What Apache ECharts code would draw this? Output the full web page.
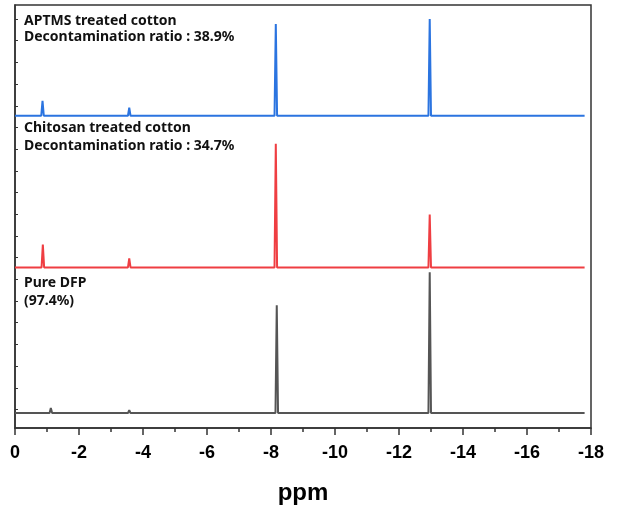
<!DOCTYPE html>
<html>
<head>
<meta charset="utf-8">
<script src="https://cdn.jsdelivr.net/npm/echarts@6/dist/echarts.min.js"></script>
<style>
  html, body { margin: 0; padding: 0; background: #fff; }
  #main { width: 621px; height: 510px; }
</style>
</head>
<body>
<div id="main"></div>
<script>
// x axis ticks (ppm)
var xTicks = [0, -2, -4, -6, -8, -10, -12, -14, -16, -18];

// peak positions (ppm) and heights (a.u.), per trace
var aptmsPeaks = [-0.86, -3.57, -8.15, -12.96];
var aptmsHeights = [15, 8, 92, 97];
var aptmsOffset = 298;

var chitosanPeaks = [-0.87, -3.57, -8.15, -12.96];
var chitosanHeights = [23, 9, 124, 53];
var chitosanOffset = 146;

var dfpPeaks = [-1.12, -3.57, -8.18, -12.96];
var dfpHeights = [5, 3, 108, 141];
var dfpOffset = 0;

var specStart = 0, specEnd = -17.8;

// polyline of a stick spectrum: baseline, then each peak top, back to baseline
function trace(peaks, heights, off) {
    var pts = [[specStart, off]];
    for (var i = 0; i < peaks.length; i++) {
        pts.push([peaks[i] + 0.04, off]);
        pts.push([peaks[i], off + heights[i]]);
        pts.push([peaks[i] - 0.04, off]);
    }
    pts.push([specEnd, off]);
    return pts;
}

// inner tick marks on the left axis
var yTickVals = [];
for (var k = 0; k <= 18; k++) yTickVals.push(395 - 21.75 * k);

var myChart = echarts.init(document.getElementById('main'));
var txt = { fontFamily: 'Noto Sans', fontWeight: 'bold', fontSize: 14, fill: '#111' };
var option = {
    animation: false,
    grid: { left: 15, right: 30, top: 5, bottom: 81, show: true, borderColor: '#333', borderWidth: 1.5 },
    xAxis: {
        type: 'value', min: -18, max: 0, interval: 2, inverse: true,
        name: 'ppm', nameLocation: 'middle', nameGap: 53,
        nameTextStyle: { fontFamily: 'Liberation Sans', fontWeight: 'bold', fontSize: 24, color: '#000' },
        axisLine: { onZero: false, lineStyle: { color: '#333', width: 1.5 } },
        axisTick: { length: 7, lineStyle: { color: '#333', width: 1.5 } },
        minorTick: { show: true, splitNumber: 2, length: 4, lineStyle: { color: '#333', width: 1.5 } },
        splitLine: { show: false },
        axisLabel: {
            margin: 16, fontFamily: 'Liberation Sans', fontWeight: 'bold', fontSize: 18, color: '#000',
            formatter: function (v) { return xTicks.indexOf(v) >= 0 ? String(v) : ''; }
        }
    },
    yAxis: {
        type: 'value', min: -15, max: 409,
        axisLine: { show: true, onZero: false, lineStyle: { color: '#333', width: 1.5 } },
        axisTick: { show: true, inside: true, length: 3, customValues: yTickVals, lineStyle: { color: '#333' } },
        axisLabel: { show: false },
        splitLine: { show: false }
    },
    series: [
        { name: 'APTMS', type: 'line', data: trace(aptmsPeaks, aptmsHeights, aptmsOffset),
          showSymbol: false, lineStyle: { color: '#2b74e0', width: 2 } },
        { name: 'Chitosan', type: 'line', data: trace(chitosanPeaks, chitosanHeights, chitosanOffset),
          showSymbol: false, lineStyle: { color: '#ef3e42', width: 2 } },
        { name: 'Pure DFP', type: 'line', data: trace(dfpPeaks, dfpHeights, dfpOffset),
          showSymbol: false, lineStyle: { color: '#555555', width: 2 } }
    ],
    graphic: [
        { type: 'text', left: 24, top: 14, style: Object.assign({ text: 'APTMS treated cotton' }, txt) },
        { type: 'text', left: 24, top: 30, style: Object.assign({ text: 'Decontamination ratio : 38.9%' }, txt) },
        { type: 'text', left: 24, top: 121, style: Object.assign({ text: 'Chitosan treated cotton' }, txt) },
        { type: 'text', left: 24, top: 139, style: Object.assign({ text: 'Decontamination ratio : 34.7%' }, txt) },
        { type: 'text', left: 24, top: 276, style: Object.assign({ text: 'Pure DFP' }, txt) },
        { type: 'text', left: 24, top: 294, style: Object.assign({ text: '(97.4%)' }, txt) }
    ]
};
myChart.setOption(option);
</script>
</body>
</html>
